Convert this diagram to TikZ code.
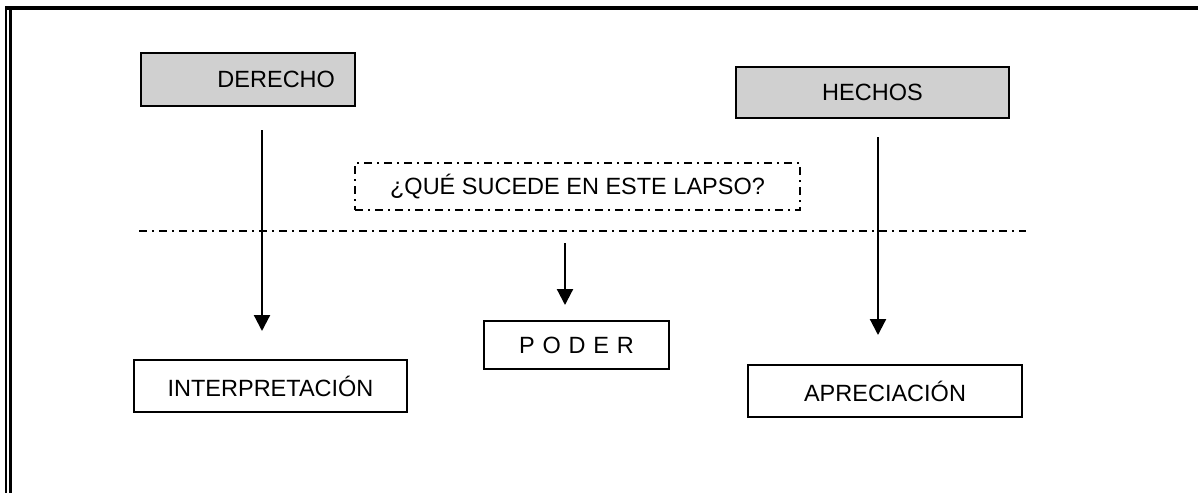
\documentclass[tikz,border=0pt]{standalone}
\usepackage{fontspec}
\setmainfont{Liberation Sans}
\usetikzlibrary{arrows.meta}
\definecolor{boxgray}{RGB}{208,208,208}
\tikzset{
  box/.style={draw=black, line width=2pt, inner sep=0pt, font=\fontsize{23.5}{28}\selectfont},
  graybox/.style={box, fill=boxgray},
  whitebox/.style={box, fill=white},
  dashdot/.style={line width=1.6pt, dash pattern=on 8pt off 5pt on 2pt off 5pt},
  arr/.style={line width=2.2pt, -{Triangle[length=16pt,width=16pt]}},
}
\begin{document}
\begin{tikzpicture}[x=1pt,y=-1pt]
\useasboundingbox (0,0) rectangle (1198,493);
% frame
\fill (5,6) rectangle (1198,10);
\fill (5,6) rectangle (7,493);
\fill (9,10) rectangle (12,493);
% boxes
\node[graybox, minimum height=53pt, inner xsep=20pt, text width=174pt, align=right] (der) at (248,79.5) {DERECHO};
\node[graybox, minimum width=273pt, minimum height=51pt] (hec) at (872.5,92.5) {HECHOS};
\node[box, dashdot, minimum width=445pt, minimum height=47pt] (que) at (577.5,186.5) {¿QUÉ SUCEDE EN ESTE LAPSO?};
\node[whitebox, minimum width=273pt, minimum height=52pt] (int) at (270.5,386) {INTERPRETACIÓN};
\node[whitebox, minimum width=185pt, minimum height=48pt] (pod) at (576.5,345) {P\,\,O\,\,D\,\,E\,\,R};
\node[whitebox, minimum width=274pt, minimum height=52pt] (apr) at (885,391) {APRECIACIÓN};
% separator line
\coordinate (sepL) at (139,231);
\coordinate (sepR) at (1026,231);
\draw[dashdot] (sepL) -- (sepR);
% arrows
\coordinate (a1s) at (262,130);
\coordinate (a1e) at (262,331);
\coordinate (a2s) at (565,243);
\coordinate (a2e) at (565,305);
\coordinate (a3s) at (878,137);
\coordinate (a3e) at (878,335);
\draw[arr] (a1s) -- (a1e);
\draw[arr] (a2s) -- (a2e);
\draw[arr] (a3s) -- (a3e);
\end{tikzpicture}
\end{document}
